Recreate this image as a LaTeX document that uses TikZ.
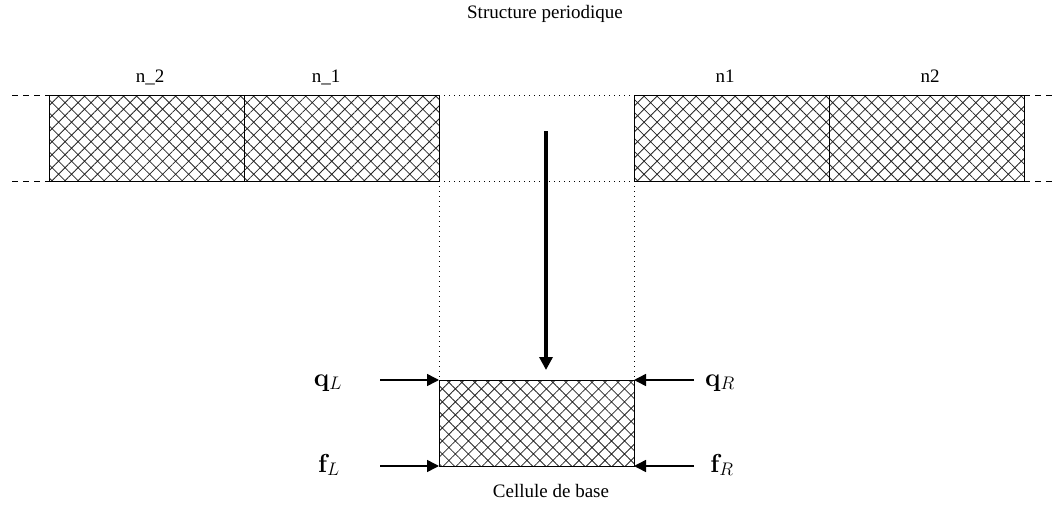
\documentclass[tikz,border=0pt]{standalone}
\usepackage{fix-cm}
\usepackage[no-math]{fontspec}
\newfontfamily\timesfont{Liberation Serif}
\usetikzlibrary{arrows.meta,patterns.meta}
\tikzset{
  cell/.style={draw, line width=1pt, minimum width=195pt, minimum height=86pt,
    inner sep=0pt, outer sep=0pt,
    pattern={Hatch[angle=45,distance=9.2pt,line width=0.8pt]}, pattern color=black!85},
  lbl/.style={font=\timesfont\fontsize{19}{22}\selectfont, anchor=base, inner sep=0pt},
  mlbl/.style={font=\fontsize{26}{30}\selectfont, anchor=base, inner sep=0pt},
  dashline/.style={line width=0.8pt, dash pattern=on 6pt off 5pt},
  dotline/.style={line width=0.9pt, dash pattern=on 1pt off 4pt, line cap=butt},
  force/.style={line width=1.5pt, -{Triangle[length=12pt,width=12pt]}},
  bigarrow/.style={line width=3.5pt, -{Triangle[length=13pt,width=13pt]}}
}
\begin{document}
\begin{tikzpicture}[x=1pt,y=-1pt]
\useasboundingbox (0,0) rectangle (1053,506);
\node[lbl] (title) at (545,18) {Structure periodique};
% periodic structure
\node[cell] (b1) at (146.5,138) {};
\node[cell] (b2) at (341.5,138) {};
\node[cell] (b3) at (731.5,138) {};
\node[cell] (b4) at (926.5,138) {};
\node[lbl] (l1) at (150,82) {n\_2};
\node[lbl] (l2) at (326,82) {n\_1};
\node[lbl] (l3) at (725,82) {n1};
\node[lbl] (l4) at (930,82) {n2};
% base cell
\node[cell] (c) at (536.5,423) {};
\node[lbl] (ctext) at (551,497) {Cellule de base};
% dashed continuation
\coordinate (dl1) at (12,95);
\coordinate (dl2) at (12,181);
\coordinate (dr1) at (1053,95);
\coordinate (dr2) at (1053,181);
\draw[dashline] (dl1) -- (b1.north west);
\draw[dashline] (dl2) -- (b1.south west);
\draw[dashline] (b4.north east) -- (dr1);
\draw[dashline] (b4.south east) -- (dr2);
% dotted gap
\draw[dotline] (b2.north east) -- (b3.north west);
\draw[dotline] (b2.south east) -- (b3.south west);
\draw[dotline] (b2.south east) -- (c.north west);
\draw[dotline] (b3.south west) -- (c.north east);
% main arrow
\coordinate (a1) at (546,131);
\coordinate (a2) at (546,370);
\draw[bigarrow] (a1) -- (a2);
% forces
\coordinate (qls) at (380,380);
\coordinate (fls) at (380,466);
\coordinate (qrs) at (694,380);
\coordinate (frs) at (694,466);
\draw[force] (qls) -- (c.north west);
\draw[force] (fls) -- (c.south west);
\draw[force] (qrs) -- (c.north east);
\draw[force] (frs) -- (c.south east);
\node[mlbl] (qL) at (328,386) {$\mathbf{q}_L$};
\node[mlbl] (fL) at (329,472) {$\mathbf{f}_L$};
\node[mlbl] (qR) at (720,386) {$\mathbf{q}_R$};
\node[mlbl] (fR) at (722,472) {$\mathbf{f}_R$};
\end{tikzpicture}
\end{document}
